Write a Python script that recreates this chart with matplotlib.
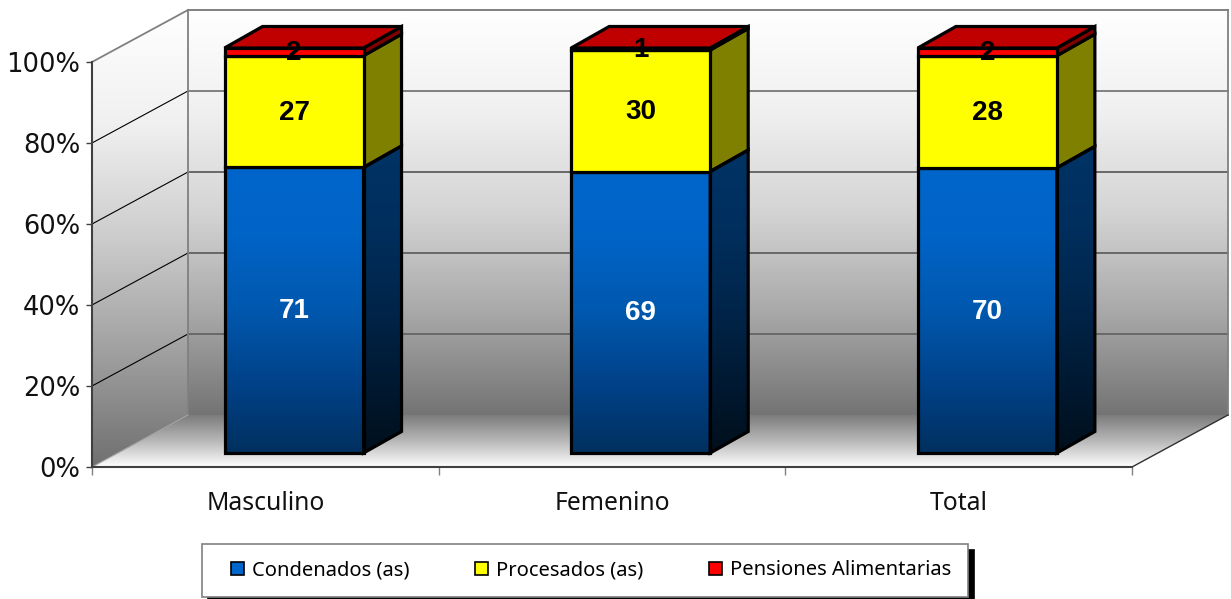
#!/usr/bin/env python3
# -*- coding: utf-8 -*-
"""
Stacked 100% columns with an Excel style 3D look
"""

import numpy as np
import matplotlib
matplotlib.use("Agg")
import matplotlib.pyplot as plt
from matplotlib.colors import LinearSegmentedColormap
from matplotlib.patches import Polygon

## Data
categorias = ["Masculino", "Femenino", "Total"]
series = ["Condenados (as)", "Procesados (as)", "Pensiones Alimentarias"]
condenados = [70.5, 69.5, 70.4]
procesados = [27.6, 30.0, 27.7]
pensiones = [1.9, 0.5, 1.9]
etiq_condenados = ["71", "69", "70"]
etiq_procesados = ["27", "30", "28"]
etiq_pensiones = ["2", "1", "2"]
ticks_y = [0, 20, 40, 60, 80, 100]

## Layout (pixels)
W, H = 1231, 599
LEFT, RIGHT, Y0, Y100 = 92, 1132, 467, 62
ux = (RIGHT - LEFT) / 3
uy = (Y0 - Y100) / 100
DX, DY = 96 / ux, 52 / uy          # depth of the walls
BX, BY = 28.7 / ux, 14 / uy        # where the bars start inside the floor
SX, SY = 38 / ux, 21.5 / uy        # depth of the bars
BAR_W = 139 / ux
LW = 2.3

plt.rcParams["font.family"] = ["Noto Sans", "DejaVu Sans"]

fig = plt.figure(figsize=(W / 100, H / 100), dpi=100)
ax = fig.add_axes([0, 0, 1, 1])


def gradient(poly, extent, colors, zorder):
    # Vertical gradient clipped on a polygon
    cmap = LinearSegmentedColormap.from_list("g", colors)
    grad = np.linspace(0, 1, 256)[:, None]
    im = ax.imshow(grad, cmap=cmap, extent=extent, aspect="auto",
                   origin="upper", zorder=zorder, interpolation="bilinear")
    patch = Polygon(poly, closed=True, facecolor="none", edgecolor="none",
                    transform=ax.transData)
    ax.add_patch(patch)
    im.set_clip_path(patch)
    return im


## Walls and floor
wall_colors = ["#ffffff", "#f0f0f0", "#d4d4d4", "#a8a8a8", "#747474"]
gradient([(DX, DY), (3 + DX, DY), (3 + DX, 100 + DY), (DX, 100 + DY)],
         (DX, 3 + DX, DY, 100 + DY), wall_colors, 0)
gradient([(0, 0), (DX, DY), (DX, 100 + DY), (0, 100)],
         (0, DX, 0, 100 + DY), ["#ffffff", "#f0f0f0", "#cccccc", "#a0a0a0", "#707070"], 0)
gradient([(0, 0), (3, 0), (3 + DX, DY), (DX, DY)],
         (0, 3 + DX, 0, DY), ["#7c7c7c", "#b8b8b8", "#ffffff"], 0)

GRIS = "#808080"
for t in ticks_y[1:]:
    ax.plot([DX, 3 + DX], [t + DY, t + DY], color=GRIS if t > 60 else "#686868",
            lw=1.4, zorder=1)
    ax.plot([0, DX], [t, t + DY], color="black" if t < 100 else GRIS,
            lw=0.8 if t < 100 else 1.3, zorder=1)
ax.plot([DX, DX], [DY, 100 + DY], color=GRIS, lw=1.3, zorder=1)
ax.plot([3 + DX, 3 + DX], [DY, 100 + DY], color=GRIS, lw=1.3, zorder=1)
ax.plot([0, DX], [0, DY], color="#a0a0a0", lw=0.8, zorder=1)
ax.plot([3, 3 + DX], [0, DY], color="#303030", lw=1.0, zorder=1)

## Bars
x = np.arange(len(categorias)) + 0.5 + BX
niveles = np.array(condenados) + np.array(procesados) + np.array(pensiones)
base = np.zeros(len(x))
azul = ["#0066cc", "#0063c6", "#0058ae", "#00428a", "#00305f"]
azul_lado = ["#003366", "#002f5e", "#00264c", "#001a34", "#000f1c"]
capas = [
    (condenados, azul, azul_lado, "white", etiq_condenados, series[0]),
    (procesados, ["#ffff00"], ["#808000"], "black", etiq_procesados, series[1]),
    (pensiones, ["#ff0000"], ["#800000"], "black", etiq_pensiones, series[2]),
]
textos = []
for valores, cara, lado, color_txt, etiq, nombre in capas:
    valores = np.array(valores)
    bars = ax.bar(x, valores, BAR_W, bottom=base + BY, facecolor=cara[0],
                  edgecolor="black", linewidth=LW, zorder=4, label=nombre)
    for i, b in enumerate(bars):
        x0, x1 = b.get_x(), b.get_x() + b.get_width()
        y0, y1 = b.get_y(), b.get_y() + b.get_height()
        side = [(x1, y0), (x1 + SX, y0 + SY), (x1 + SX, y1 + SY), (x1, y1)]
        if len(cara) > 1:
            # gradient faces, the bar keeps only its outline
            gradient([(x0, y0), (x1, y0), (x1, y1), (x0, y1)],
                     (x0, x1, y0, y1), cara, 3)
            gradient(side, (x1, x1 + SX, y0, y1 + SY), lado, 3)
            b.set_facecolor("none")
            ax.add_patch(Polygon(side, closed=True, facecolor="none",
                                 edgecolor="black", lw=LW, zorder=4))
        else:
            ax.add_patch(Polygon(side, closed=True, facecolor=lado[0],
                                 edgecolor="black", lw=LW, zorder=3.5))
        textos.append((x[i], (y0 + y1) / 2, etiq[i], color_txt))
    base = base + valores

## Top of the columns
for xi, top in zip(x, niveles + BY):
    x0, x1 = xi - BAR_W / 2, xi + BAR_W / 2
    ax.add_patch(Polygon([(x0, top), (x1, top), (x1 + SX, top + SY), (x0 + SX, top + SY)],
                         closed=True, facecolor="#c00000", edgecolor="black",
                         lw=LW, zorder=4.5))

for tx, ty, s, c in textos:
    ax.text(tx, ty - 0.3, s, color=c, ha="center", va="center", fontsize=20,
            fontweight="bold", family="Liberation Sans", zorder=6)

## Axes
ax.set_xlim(-LEFT / ux, (W - LEFT) / ux)
ax.set_ylim(-(H - Y0) / uy, Y0 / uy)
for s in ["top", "right"]:
    ax.spines[s].set_visible(False)
for s in ["left", "bottom"]:
    ax.spines[s].set_position(("data", 0))
    ax.spines[s].set_color("#404040")
    ax.spines[s].set_linewidth(1.5)
ax.spines["left"].set_bounds(0, 100)
ax.spines["bottom"].set_bounds(0, 3)
ax.set_yticks(ticks_y)
ax.set_yticklabels(["%d%%" % t for t in ticks_y], fontsize=18.5, color="#111111",
                   family="DejaVu Sans")
ax.tick_params(axis="y", length=4.5, width=1.0, color="#404040", pad=4)
ax.set_xticks([0, 1, 2, 3])
ax.set_xticklabels([])
ax.set_xticks([0.5, 1.5, 2.5], minor=True)
ax.set_xticklabels(categorias, minor=True, fontsize=17.8, color="#111111")
ax.tick_params(axis="x", which="major", length=6, width=1.0, color="#808080")
ax.tick_params(axis="x", which="minor", length=0, pad=17.5)

## Legend
handles, labels = ax.get_legend_handles_labels()
leg = ax.legend(handles, labels, ncol=3, loc="lower left",
                bbox_to_anchor=(202 / W, (H - 597) / H, 766 / W, 54 / H),
                bbox_transform=fig.transFigure, mode="expand",
                fontsize=14.5, fancybox=False, framealpha=1, edgecolor="#808080",
                shadow={"ox": 4.3, "oy": -4.3, "color": "black", "alpha": 1},
                handlelength=1.27, handletextpad=0.4,
                columnspacing=2.0, borderpad=0.82, borderaxespad=0)
leg.get_frame().set_linewidth(1.2)
leg.set_zorder(10)
for h, c in zip(leg.legend_handles, ["#0066cc", "#ffff00", "#ff0000"]):
    h.set_facecolor(c)
    h.set_edgecolor("black")
    h.set_linewidth(1.2)
    h.set_x(9)
    h.set_width(9.4)
    h.set_height(9.4)
    h.set_y(h.get_y() + 0.3)

fig.savefig("out.png", dpi=100, facecolor="white")
